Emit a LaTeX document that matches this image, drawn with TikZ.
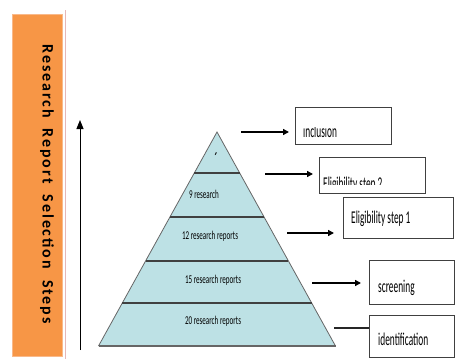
\documentclass[tikz,border=0pt]{standalone}
\usepackage{fontspec}
\setmainfont{Carlito}
\newfontfamily\sidefont[LetterSpace=12]{Carlito}
\usetikzlibrary{arrows.meta}
\definecolor{orng}{HTML}{F79646}
\definecolor{orngedge}{HTML}{F9B98A}
\definecolor{pinkline}{HTML}{E6B8B7}
\definecolor{pyr}{HTML}{BDE1E5}
\definecolor{edge}{HTML}{404040}
\newcommand{\cond}[1]{\scalebox{0.52}[1]{#1}}
\newcommand{\condp}[1]{\scalebox{0.59}[1]{#1}}
\tikzset{
  layer/.style={fill=pyr, draw=edge!80, line width=0.8pt},
  divider/.style={draw=edge, line width=1.6pt},
  stepbox/.style={draw=edge, line width=1pt, fill=white, inner sep=0pt},
  boxtext/.style={anchor=base west, inner sep=0pt, font=\fontsize{18}{18}\selectfont},
  pyrtext/.style={anchor=base, inner sep=0pt, font=\fontsize{12}{12}\selectfont},
  arr/.style={draw=black, line width=1.4pt, -{Triangle[length=6pt,width=6pt]}},
  plain/.style={draw=black!85, line width=1.2pt},
}
\begin{document}
\begin{tikzpicture}[x=1pt,y=-1pt]
\useasboundingbox (0,0) rectangle (455,359);
% side banner
\node[draw=orngedge, line width=0.6pt, fill=orng, minimum width=50pt, minimum height=342pt, inner sep=0pt] (banner) at (37,185) {};
\draw[pinkline, line width=0.8pt] (65.5,10) -- (65.5,359);
\node[rotate=-90, inner sep=0pt, font=\sidefont\bfseries\fontsize{16}{16}\selectfont] (side) at (47,184) {Research\ \ Report\ \ Selection\ \ Steps};
% upward arrow
\coordinate (up0) at (80,350);
\coordinate (up1) at (80,120);
\draw[line width=1pt, -{Triangle[length=9pt,width=7pt]}] (up0) -- (up1);
% pyramid
\coordinate (apex) at (217,132);
\fill[pyr] (217,132) -- (335.5,346) -- (98.5,346) -- cycle;
\draw[edge!80, line width=0.8pt] (98.5,346) -- (217,132) -- (335.5,346);
\draw[edge!80, line width=1.4pt] (98.5,346) -- (335.5,346);
\draw[divider] (194.3,173) -- (239.7,173);
\draw[divider] (169.9,217) -- (264.1,217);
\draw[divider] (145.6,261) -- (288.4,261);
\draw[divider] (122.3,303) -- (311.7,303);
\node[pyrtext, font=\fontsize{20}{20}\selectfont] (t0) at (216,166) {\condp{´}};
\node[pyrtext] (t1) at (204,198) {\condp{9 research}};
\node[pyrtext] (t2) at (210,239) {\condp{12 research reports}};
\node[pyrtext] (t3) at (213,283) {\condp{15 research reports}};
\node[pyrtext] (t4) at (213,324) {\condp{20 research reports}};
% boxes
\node[stepbox, minimum width=96pt, minimum height=37pt] (inc) at (343,125.5) {};
\node[stepbox, minimum width=106pt, minimum height=36pt] (el2) at (372,175) {};
\node[stepbox, minimum width=110pt, minimum height=41pt] (el1) at (398,217.5) {};
\node[stepbox, minimum width=85pt, minimum height=44pt] (scr) at (411.5,282) {};
\node[stepbox, minimum width=85pt, minimum height=42pt] (idf) at (411.5,336) {};
\begin{scope}
  \clip (296,127.5) rectangle (390,143);
  \node[boxtext] (incT) at (303,137) {\cond{inclusion}};
\end{scope}
\begin{scope}
  \clip (320,158) rectangle (424,184);
  \node[boxtext] (el2T) at (323,189) {\cond{Eligibility step 2}};
\end{scope}
\node[boxtext] (el1T) at (351,223) {\cond{Eligibility step 1}};
\node[boxtext] (scrT) at (378,292) {\cond{screening}};
\node[boxtext] (idfT) at (378,345) {\cond{identification}};
% connectors
\coordinate (a1s) at (241,132); \coordinate (a1e) at (289,132);
\coordinate (a2s) at (265,174); \coordinate (a2e) at (313,174);
\coordinate (a3s) at (287,233); \coordinate (a3e) at (334,233);
\coordinate (a4s) at (312,283); \coordinate (a4e) at (361,283);
\coordinate (a5s) at (334,328); \coordinate (a5e) at (369,328);
\draw[arr] (a1s) -- (a1e);
\draw[arr] (a2s) -- (a2e);
\draw[arr] (a3s) -- (a3e);
\draw[arr] (a4s) -- (a4e);
\draw[plain] (a5s) -- (a5e);
\end{tikzpicture}
\end{document}
